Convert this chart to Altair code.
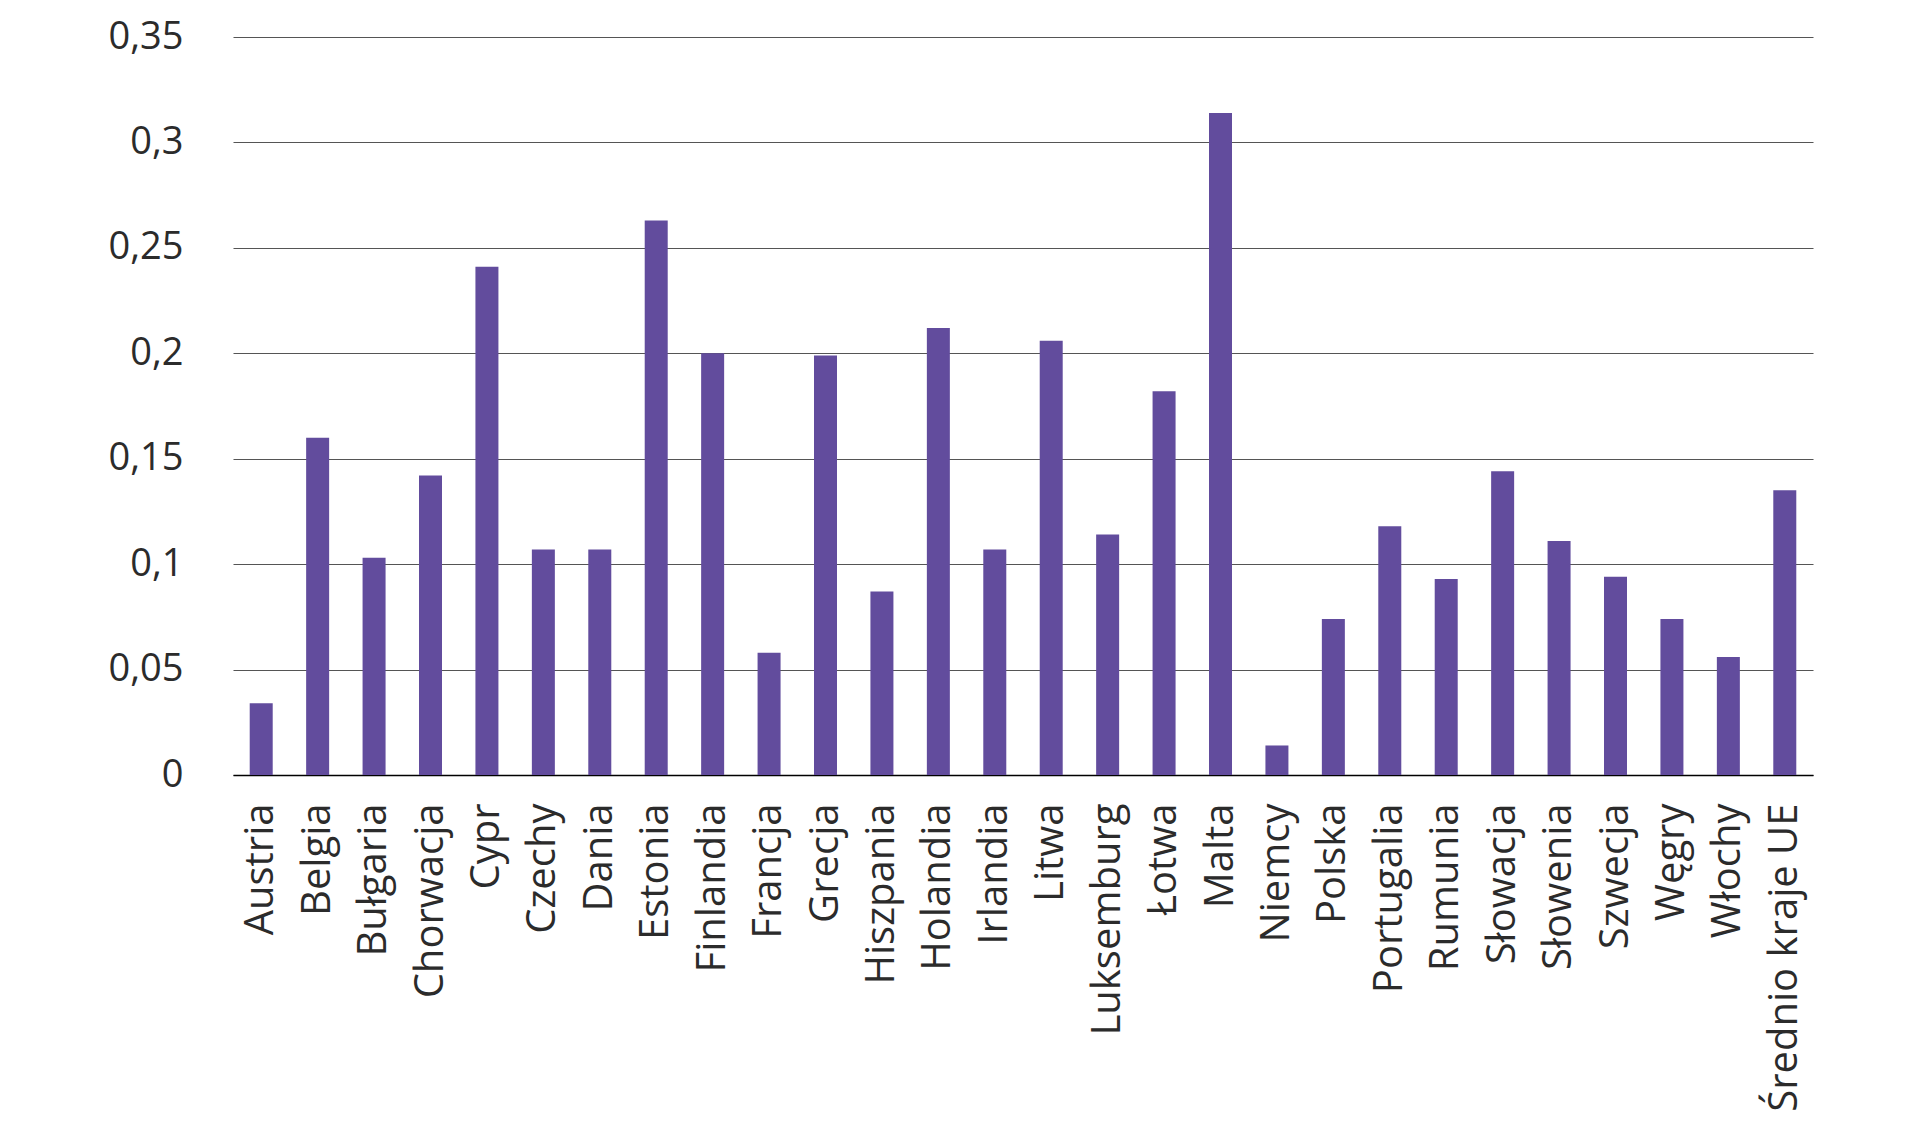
import pandas as pd
import altair as alt

# Kraje i wartości
kraje = [
    "Austria", "Belgia", "Bułgaria", "Chorwacja", "Cypr", "Czechy", "Dania",
    "Estonia", "Finlandia", "Francja", "Grecja", "Hiszpania", "Holandia",
    "Irlandia", "Litwa", "Luksemburg", "Łotwa", "Malta", "Niemcy", "Polska",
    "Portugalia", "Rumunia", "Słowacja", "Słowenia", "Szwecja", "Węgry",
    "Włochy", "Średnio kraje UE",
]
wartosci = [
    0.034, 0.160, 0.103, 0.142, 0.241, 0.107, 0.107,
    0.263, 0.200, 0.058, 0.199, 0.087, 0.212,
    0.107, 0.206, 0.114, 0.182, 0.314, 0.014, 0.074,
    0.118, 0.093, 0.144, 0.111, 0.094, 0.074,
    0.056, 0.135,
]
y_ticks = [0, 0.05, 0.1, 0.15, 0.2, 0.25, 0.3, 0.35]

df = pd.DataFrame({"kraj": kraje, "wartosc": wartosci})

chart = alt.Chart(df).mark_bar(size=23, color="#624C9D").encode(
    x=alt.X("kraj:N", sort=kraje, title=None,
            scale=alt.Scale(paddingInner=0, paddingOuter=0),
            axis=alt.Axis(labelAngle=-90, labelAlign="right", labelBaseline="middle",
                          labelPadding=28, ticks=False, domainColor="#000000",
                          domainWidth=1.5, labelFont="Open Sans", labelFontSize=40,
                          labelColor="#2b2b2b", grid=False, labelOverlap=False,
                          labelLimit=600)),
    y=alt.Y("wartosc:Q", title=None,
            scale=alt.Scale(domain=[0, 0.35], nice=False),
            axis=alt.Axis(values=y_ticks, format="~g",
                          labelExpr="replace(datum.label, '.', ',')",
                          domain=False, ticks=False, labelPadding=50,
                          labelFont="Open Sans", labelFontSize=38,
                          labelColor="#2b2b2b", gridColor="#555555",
                          gridWidth=1.2)),
).properties(
    width=1580,
    height=738,
    autosize=alt.AutoSizeParams(type="none"),
    padding={"left": 225, "top": 29, "right": 90, "bottom": 352},
).configure_view(stroke=None)

chart.save("out.html", embed_options={"renderer": "svg", "actions": False})
